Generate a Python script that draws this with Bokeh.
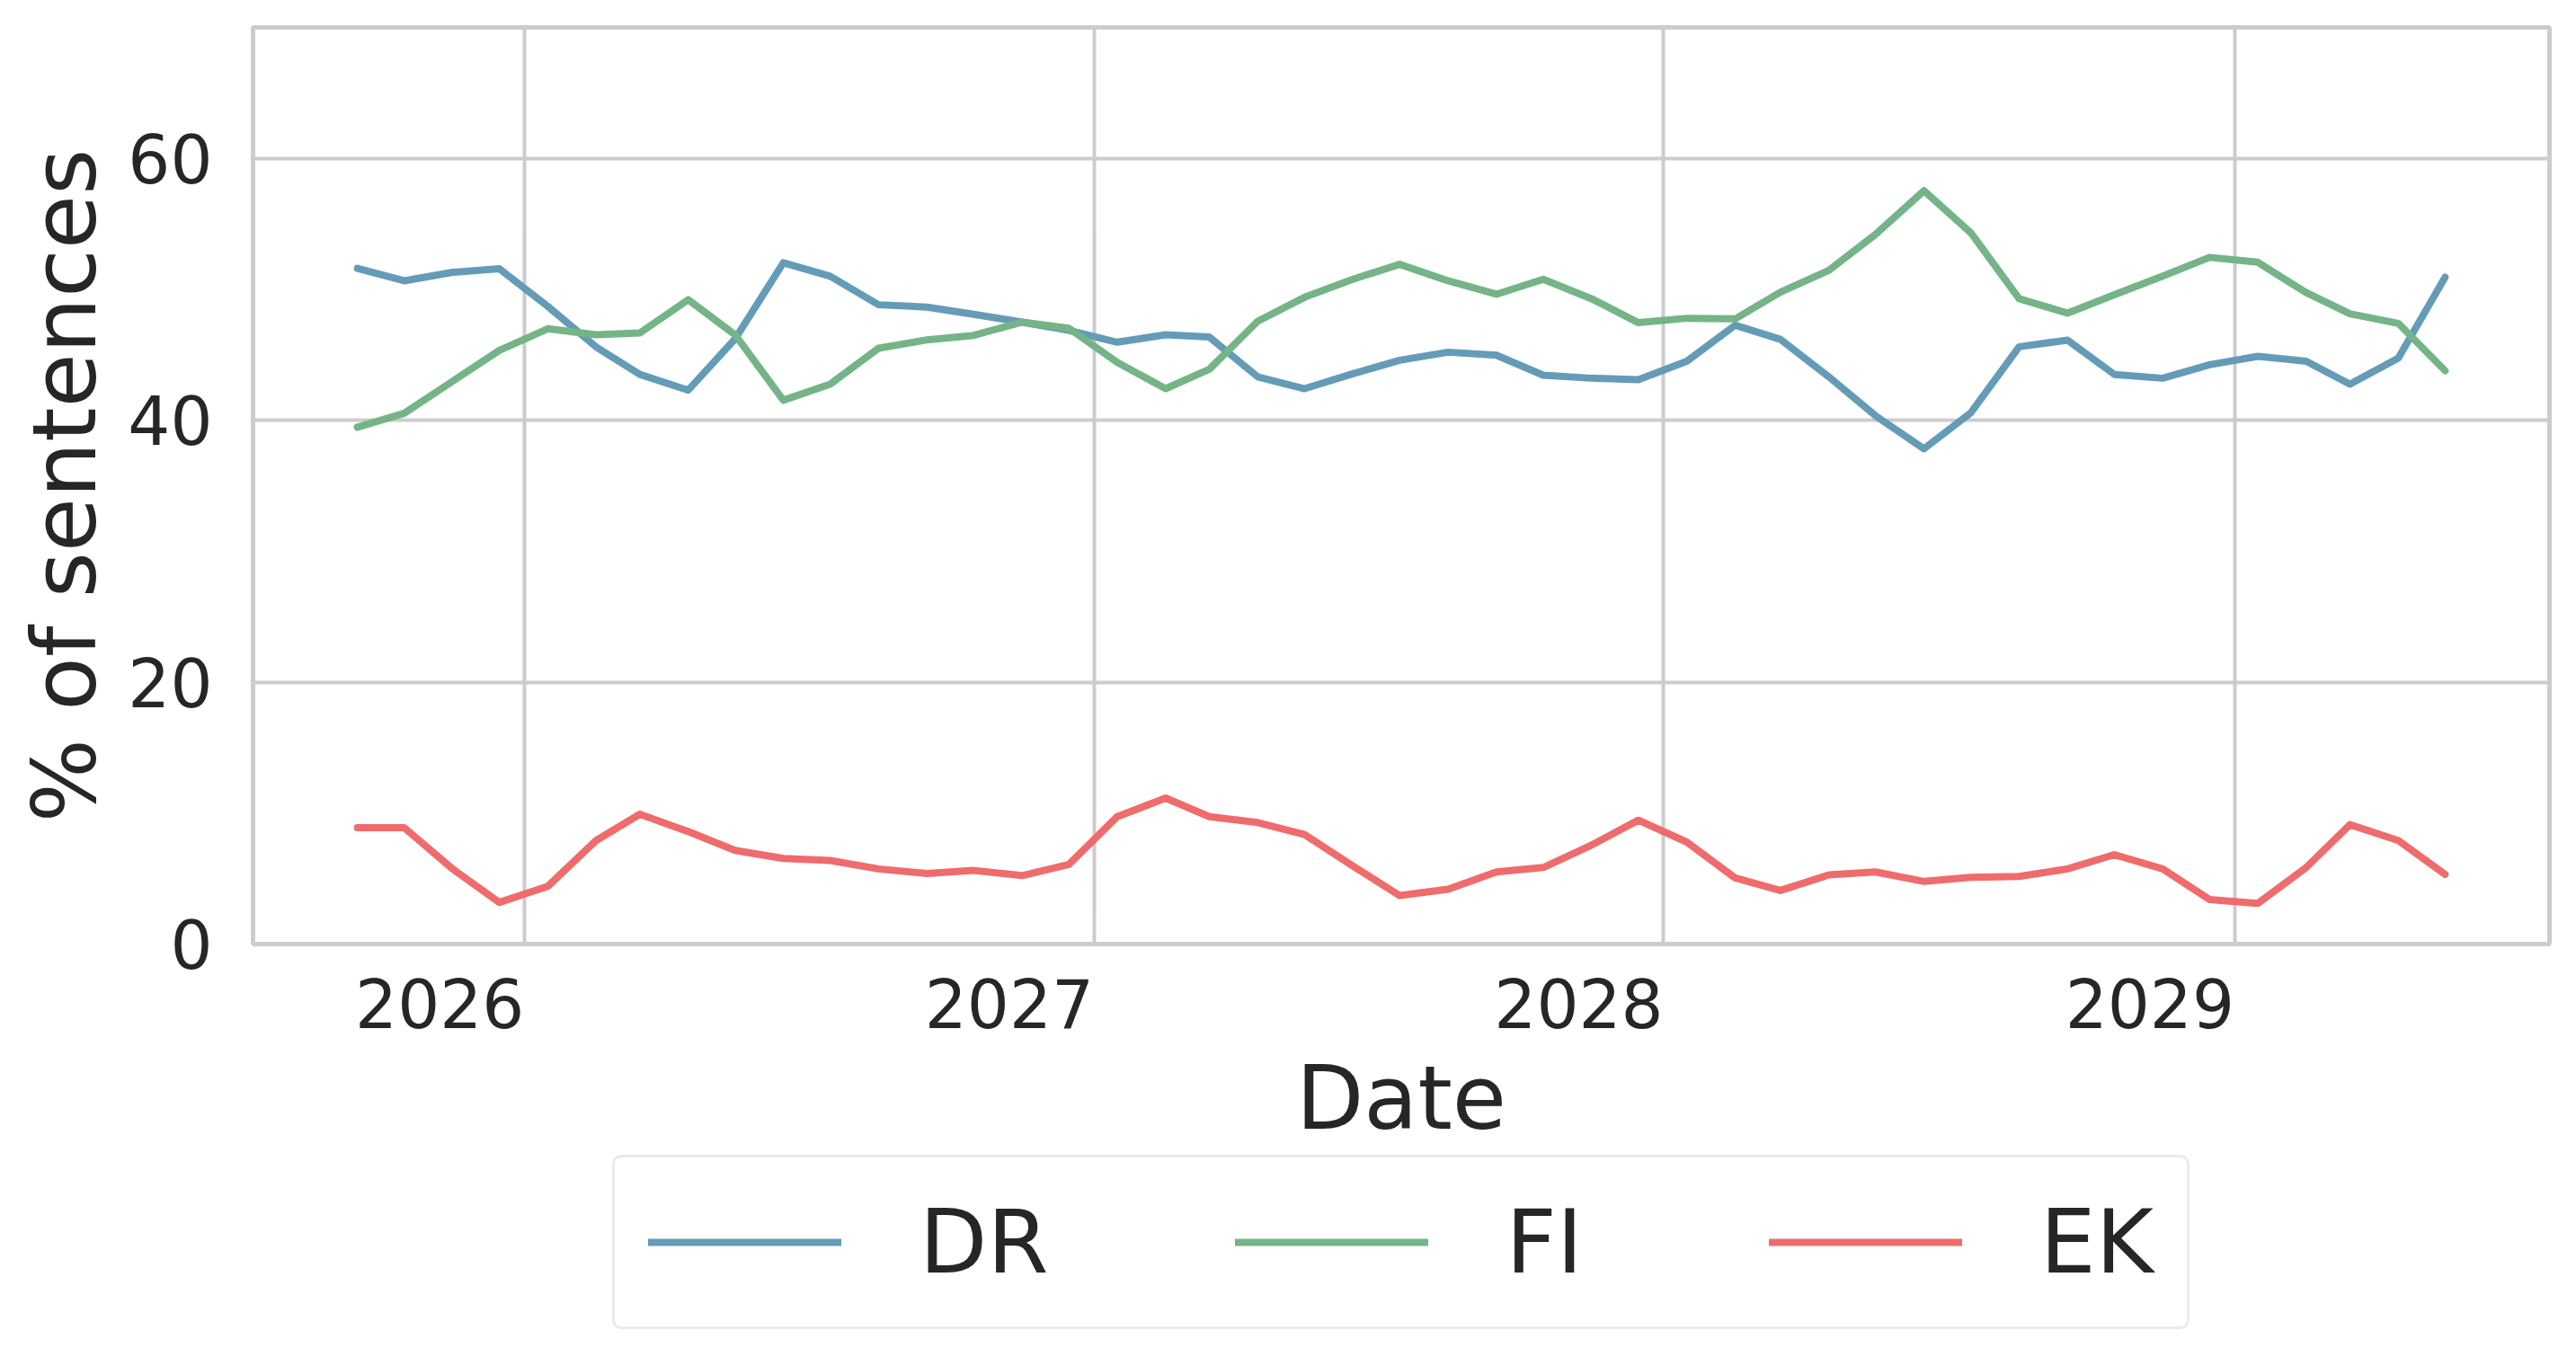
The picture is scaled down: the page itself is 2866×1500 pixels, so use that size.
import numpy as np
import pandas as pd
from bokeh.plotting import figure
from bokeh.layouts import column
from bokeh.models import Range1d, FixedTicker, CustomJSTickFormatter, Legend, LegendItem
from bokeh.embed import file_html
from bokeh.resources import INLINE

# ---------------- data ----------------
dates = pd.date_range("2025-09-16", periods=45, freq=pd.DateOffset(months=1))

dr = [51.6, 50.65, 51.3, 51.57, 48.7, 45.6, 43.5, 42.3, 46.2, 52.03, 51.0, 48.82,
      48.64, 48.09, 47.49, 46.87, 45.96, 46.53, 46.35, 43.32, 42.41, 43.55, 44.58,
      45.2, 44.97, 43.44, 43.21, 43.1, 44.51, 47.26, 46.18, 43.32, 40.34, 37.82,
      40.57, 45.61, 46.12, 43.5, 43.21, 44.24, 44.88, 44.51, 42.75, 44.74, 50.93]

fi = [39.47, 40.53, 42.98, 45.34, 46.99, 46.53, 46.67, 49.21, 46.53, 41.53, 42.75,
      45.5, 46.14, 46.48, 47.49, 47.03, 44.42, 42.41, 43.89, 47.56, 49.39, 50.77,
      51.91, 50.65, 49.62, 50.77, 49.28, 47.45, 47.79, 47.74, 49.78, 51.45, 54.2,
      57.53, 54.32, 49.28, 48.18, 49.58, 51.0, 52.44, 52.07, 49.74, 48.13, 47.4, 43.78]

ek = [8.89, 8.89, 5.74, 3.18, 4.41, 7.91, 9.92, 8.59, 7.15, 6.54, 6.38, 5.74, 5.39,
      5.62, 5.23, 6.08, 9.73, 11.15, 9.73, 9.28, 8.36, 5.96, 3.7, 4.18, 5.51, 5.85,
      7.56, 9.46, 7.79, 5.05, 4.09, 5.28, 5.51, 4.78, 5.10, 5.16, 5.74, 6.83, 5.74,
      3.40, 3.11, 5.85, 9.12, 7.91, 5.32]

series_names = ["DR", "FI", "EK"]
series_colors = ["#649cb8", "#74b487", "#f06b6b"]
year_ticks = ["2026-01-01", "2027-01-01", "2028-01-01", "2029-01-01"]
y_ticks = [0, 20, 40, 60]

# ---------------- layout ----------------
FONT = "DejaVu Sans"
TEXT_COLOR = "#262626"
GRID_COLOR = "#cccccc"
FW, FH = 2555, 1020
BL, BT, BR = 281, 30, 14
W = BL + FW + BR
TICK_PX = 74
LABEL_PX = 98
LEG_H = 212          # height of the strip that holds the legend

x_ms = dates.asi8 / 1e6
span = x_ms[-1] - x_ms[0]
x0, x1 = x_ms[0] - 0.05 * span, x_ms[-1] + 0.05 * span
grid_ms = [pd.Timestamp(d).value / 1e6 for d in year_ticks]
# tick labels are right-aligned to the year gridlines
half_label_px = 2 * 0.636 * TICK_PX
shift_ms = half_label_px * (x1 - x0) / FW
label_ms = [g - shift_ms for g in grid_ms]

p = figure(width=W, frame_width=FW, frame_height=FH,
           min_border_left=BL, min_border_right=BR, min_border_top=BT, min_border_bottom=0,
           x_range=Range1d(x0, x1), y_range=Range1d(0, 70),
           output_backend="svg", toolbar_location=None)

p.background_fill_color = "white"
p.border_fill_color = "white"
p.outline_line_color = GRID_COLOR
p.outline_line_width = 5

for name, vals, col in zip(series_names, [dr, fi, ek], series_colors):
    p.line(x_ms, vals, line_color=col, line_width=8, line_cap="round", line_join="round")

p.xgrid.ticker = FixedTicker(ticks=grid_ms)
p.ygrid.ticker = FixedTicker(ticks=y_ticks)
for g in (p.xgrid, p.ygrid):
    g.grid_line_color = GRID_COLOR
    g.grid_line_width = 4

xa = p.xaxis[0]
xa.ticker = FixedTicker(ticks=label_ms)
xa.formatter = CustomJSTickFormatter(args=dict(shift=shift_ms),
                                     code="return String(new Date(tick + shift).getUTCFullYear());")
xa.axis_label = "Date"
xa.major_label_standoff = 38
xa.axis_label_standoff = 18

ya = p.yaxis[0]
ya.ticker = FixedTicker(ticks=y_ticks)
ya.axis_label = "% of sentences"
ya.major_label_standoff = 45
ya.axis_label_standoff = 10

for ax in (xa, ya):
    ax.axis_line_color = None
    ax.major_tick_out = 0
    ax.major_tick_in = 0
    ax.minor_tick_out = 0
    ax.minor_tick_in = 0
    ax.major_label_text_font = FONT
    ax.major_label_text_font_size = f"{TICK_PX}px"
    ax.major_label_text_color = TEXT_COLOR
    ax.axis_label_text_font = FONT
    ax.axis_label_text_font_size = f"{LABEL_PX}px"
    ax.axis_label_text_font_style = "normal"
    ax.axis_label_text_color = TEXT_COLOR

# legend strip below the chart (its frame is aligned with the chart's frame);
# the series are drawn there outside its view only to feed the legend glyphs
q = figure(width=W, height=LEG_H, x_axis_type=None, y_axis_type=None,
           x_range=Range1d(0, 1), y_range=Range1d(0, 1),
           min_border=0, output_backend="svg", toolbar_location=None)
q.outline_line_color = None
q.background_fill_color = "white"
q.border_fill_color = "white"
items = []
for name, vals, col in zip(series_names, [dr, fi, ek], series_colors):
    r = q.line(x_ms, vals, line_color=col, line_width=8, line_cap="round")
    items.append(LegendItem(label=name, renderers=[r]))

legend = Legend(items=items, orientation="horizontal", location=(400, 14))
legend.glyph_width = 215
legend.glyph_height = 40
legend.label_standoff = 87
legend.spacing = 207
legend.padding = 37
legend.margin = 0
legend.label_text_font = FONT
legend.label_text_font_size = f"{LABEL_PX}px"
legend.label_text_color = TEXT_COLOR
legend.border_line_color = "#d6d6d6"
legend.border_line_width = 3
legend.border_radius = 10
legend.background_fill_color = "white"
legend.background_fill_alpha = 1.0
q.add_layout(legend, "center")

layout = column(p, q, spacing=0)
open("out.html", "w").write(file_html(layout, INLINE))
